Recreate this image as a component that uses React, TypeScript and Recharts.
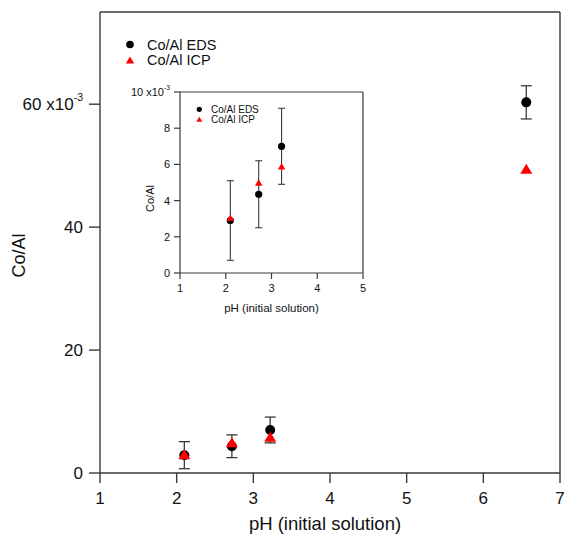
import React from 'react'
import { ScatterChart, Scatter, XAxis, YAxis, ErrorBar, ReferenceLine, Legend } from 'recharts'

const FONT = '"Liberation Sans", Arial, Helvetica, sans-serif'
const AXIS = '#3a3a3a'
const TEXT = '#111'
const RED = '#ff0000'

// Co/Al ratios, in units of 10^-3
const phValues = [2.1, 2.72, 3.22, 6.56]
const edsRatio = [2.9, 4.35, 7.0, 60.3]
const edsError = [2.2, 1.85, 2.1, 2.7]
const icpRatio = [3.05, 5.0, 5.9, 49.5]

const seriesNames = ['Co/Al EDS', 'Co/Al ICP']
const xTitle = 'pH (initial solution)'
const yTitle = 'Co/Al'

const mainXTicks = [1, 2, 3, 4, 5, 6, 7]
const mainYTicks = [0, 20, 40, 60]
const insetXTicks = [1, 2, 3, 4, 5]
const insetYTicks = [0, 2, 4, 6, 8, 10]

const edsData = phValues.map((ph, i) => ({ ph, ratio: edsRatio[i], err: edsError[i] }))
const icpData = phValues.map((ph, i) => ({ ph, ratio: icpRatio[i] }))
// the inset only zooms on the low pH points
const insetEds = edsData.filter(d => d.ph <= 5)
const insetIcp = icpData.filter(d => d.ph <= 5)

const circleShape = (r: number) => (props: any) => (
    <circle cx={props.cx} cy={props.cy} r={r} fill="#000" />
)

const triangleShape = (w: number) => (props: any) => {
    const { cx, cy } = props
    const h = w * 0.85
    return (
        <polygon
            points={`${cx},${cy - h / 2} ${cx - w / 2},${cy + h / 2} ${cx + w / 2},${cy + h / 2}`}
            fill={RED}
        />
    )
}

// y tick with the "x10^-3" multiplier on the top label
const yTick = (fontSize: number, expAt: number) => (props: any) => {
    const { x, y, payload } = props
    return (
        <text x={x} y={y} textAnchor="end" dominantBaseline="central" fontSize={fontSize} fill={TEXT} fontFamily={FONT}>
            {payload.value}
            {payload.value === expAt && (
                <> x10<tspan dy={-fontSize * 0.42} fontSize={fontSize * 0.62}>-3</tspan></>
            )}
        </text>
    )
}

const XTitle = ({ viewBox, fontSize, dx, dy }: any) => (
    <text
        x={viewBox.x + viewBox.width / 2 + dx}
        y={viewBox.y + dy}
        textAnchor="middle"
        dominantBaseline="central"
        fontSize={fontSize}
        fill={TEXT}
        fontFamily={FONT}
    >
        {xTitle}
    </text>
)

const YTitle = ({ viewBox, fontSize, cx, dy }: any) => {
    const x = viewBox.x + cx
    const y = viewBox.y + viewBox.height / 2 + dy
    return (
        <text
            x={x}
            y={y}
            transform={`rotate(-90 ${x} ${y})`}
            textAnchor="middle"
            dominantBaseline="central"
            fontSize={fontSize}
            fill={TEXT}
            fontFamily={FONT}
        >
            {yTitle}
        </text>
    )
}

const LegendBlock = ({ fontSize, r, triW, rowGap, textX, mx, my }: any) => {
    const h = triW * 0.85
    return (
        <svg width={textX + fontSize * 6} height={my * 2 + rowGap} style={{ display: 'block' }}>
            <circle cx={mx} cy={my} r={r} fill="#000" />
            <text x={textX} y={my} dominantBaseline="central" fontSize={fontSize} fill={TEXT} fontFamily={FONT}>
                {seriesNames[0]}
            </text>
            <polygon
                points={`${mx},${my + rowGap - h / 2} ${mx - triW / 2},${my + rowGap + h / 2} ${mx + triW / 2},${my + rowGap + h / 2}`}
                fill={RED}
            />
            <text x={textX} y={my + rowGap} dominantBaseline="central" fontSize={fontSize} fill={TEXT} fontFamily={FONT}>
                {seriesNames[1]}
            </text>
        </svg>
    )
}

export default function App() {
    return (
        <div style={{ position: 'absolute', left: 0, top: 0, width: 566, height: 537, background: '#fff', fontFamily: FONT }}>
            {/* Main chart */}
            <ScatterChart width={566} height={537} margin={{ top: 12, right: 6, bottom: 0, left: 0 }}>
                <XAxis
                    type="number"
                    dataKey="ph"
                    domain={[1, 7]}
                    ticks={mainXTicks}
                    height={64}
                    tickSize={10}
                    tickMargin={9}
                    stroke={AXIS}
                    strokeWidth={1.4}
                    tick={{ fontSize: 17, fill: TEXT, fontFamily: FONT }}
                    label={<XTitle fontSize={18.5} dx={-5} dy={50} />}
                />
                <YAxis
                    type="number"
                    dataKey="ratio"
                    domain={[0, 75]}
                    ticks={mainYTicks}
                    width={100}
                    tickSize={11}
                    tickMargin={6}
                    stroke={AXIS}
                    strokeWidth={1.4}
                    tick={yTick(17, 60)}
                    label={<YTitle fontSize={18} cx={19} dy={13} />}
                />
                <ReferenceLine x={7} stroke={AXIS} strokeWidth={1.4} />
                <ReferenceLine y={75} stroke={AXIS} strokeWidth={1.4} />
                <Scatter name={seriesNames[0]} data={edsData} shape={circleShape(5)} isAnimationActive={false}>
                    <ErrorBar dataKey="err" direction="y" width={5.5} stroke={AXIS} strokeWidth={1.3} />
                </Scatter>
                <Scatter name={seriesNames[1]} data={icpData} shape={triangleShape(12)} isAnimationActive={false} />
                <Legend
                    layout="vertical"
                    align="center"
                    verticalAlign="middle"
                    wrapperStyle={{ left: 118, top: 32, width: 130 }}
                    content={() => <LegendBlock fontSize={14.5} r={3.8} triW={8.5} rowGap={15.5} textX={29} mx={12} my={12.5} />}
                />
            </ScatterChart>

            {/* Inset */}
            <div style={{ position: 'absolute', left: 120, top: 80 }}>
                <ScatterChart width={250} height={240} margin={{ top: 12, right: 7, bottom: 0, left: 0 }}>
                    <XAxis
                        type="number"
                        dataKey="ph"
                        domain={[1, 5]}
                        ticks={insetXTicks}
                        height={47}
                        tickSize={6}
                        tickMargin={5}
                        stroke={AXIS}
                        strokeWidth={1.2}
                        tick={{ fontSize: 11, fill: TEXT, fontFamily: FONT }}
                        label={<XTitle fontSize={11.5} dx={0} dy={35} />}
                    />
                    <YAxis
                        type="number"
                        dataKey="ratio"
                        domain={[0, 10]}
                        ticks={insetYTicks}
                        width={60}
                        tickSize={6}
                        tickMargin={4}
                        stroke={AXIS}
                        strokeWidth={1.2}
                        tick={yTick(11, 10)}
                        label={<YTitle fontSize={11} cx={30} dy={16} />}
                    />
                    <ReferenceLine x={5} stroke={AXIS} strokeWidth={1.2} />
                    <ReferenceLine y={10} stroke={AXIS} strokeWidth={1.2} />
                    <Scatter name={seriesNames[0]} data={insetEds} shape={circleShape(3.6)} isAnimationActive={false}>
                        <ErrorBar dataKey="err" direction="y" width={3.5} stroke={AXIS} strokeWidth={1.1} />
                    </Scatter>
                    <Scatter name={seriesNames[1]} data={insetIcp} shape={triangleShape(7.5)} isAnimationActive={false} />
                    <Legend
                        layout="vertical"
                        align="center"
                        verticalAlign="middle"
                        wrapperStyle={{ left: 70, top: 20, width: 90 }}
                        content={() => <LegendBlock fontSize={10} r={2.6} triW={6} rowGap={10} textX={21} mx={9.3} my={9.3} />}
                    />
                </ScatterChart>
            </div>
        </div>
    )
}
